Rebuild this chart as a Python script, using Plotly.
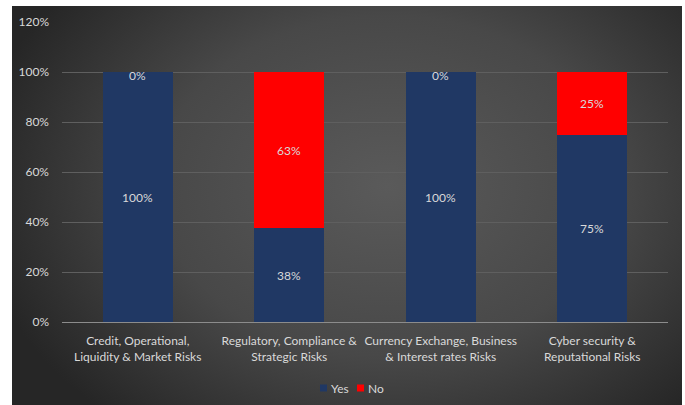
import base64
import math
import plotly.graph_objects as go

# Survey results per risk category (share of respondents, %)
categories = [
    "Credit, Operational,<br>Liquidity & Market Risks",
    "Regulatory, Compliance &<br>Strategic Risks",
    "Currency Exchange, Business<br>& Interest rates Risks",
    "Cyber security &<br>Reputational Risks",
]
yes_values = [100, 37.5, 100, 75]
no_values = [0, 62.5, 0, 25]
series_names = ["Yes", "No"]
y_ticks = [0, 20, 40, 60, 80, 100, 120]

YES_COLOR = "#203864"
NO_COLOR = "#FF0000"
TEXT_COLOR = "#D9D9D9"
FONT = "Lato, 'Open Sans', sans-serif"

W, H = 685, 405
M_L, M_R, M_T, M_B = 62, 17, 22, 83
plot_w = W - M_L - M_R
plot_h = H - M_T - M_B


def pct(v):
    return f"{math.floor(v + 0.5)}%"


def px_to_paper_x(px):
    return (px - M_L) / plot_w


def px_to_paper_y(py):
    return (H - M_B - py) / plot_h


# Dark radial-gradient panel behind the chart
svg = (
    '<svg xmlns="http://www.w3.org/2000/svg" width="670" height="399" '
    'preserveAspectRatio="none" viewBox="0 0 670 399">'
    '<defs><radialGradient id="g" cx="0.56" cy="0.45" r="0.62" '
    'gradientTransform="translate(0.56 0.45) scale(1 1.25) translate(-0.56 -0.45)">'
    '<stop offset="0" stop-color="#5a5a5a"/>'
    '<stop offset="0.55" stop-color="#484848"/>'
    '<stop offset="1" stop-color="#262626"/>'
    '</radialGradient></defs>'
    '<rect width="670" height="399" fill="url(#g)"/></svg>'
)
svg_uri = "data:image/svg+xml;base64," + base64.b64encode(svg.encode()).decode()

fig = go.Figure()
fig.add_trace(go.Bar(
    x=categories, y=yes_values, name=series_names[0],
    marker=dict(color=YES_COLOR, line=dict(width=0)),
    hoverinfo="skip", showlegend=False,
))
fig.add_trace(go.Bar(
    x=categories, y=no_values, name=series_names[1],
    marker=dict(color=NO_COLOR, line=dict(width=0)),
    hoverinfo="skip", showlegend=False,
))

# Value labels centred in each segment
annotations = []
for cat, yv, nv in zip(categories, yes_values, no_values):
    annotations.append(dict(
        x=cat, y=yv / 2, xref="x", yref="y", text=pct(yv),
        showarrow=False, font=dict(family=FONT, size=12, color=TEXT_COLOR),
    ))
    annotations.append(dict(
        x=cat, y=yv + nv / 2, xref="x", yref="y", text=pct(nv),
        showarrow=False, yshift=-3 if nv == 0 else 0,
        font=dict(family=FONT, size=12, color=TEXT_COLOR),
    ))

# Compact legend: small square swatch followed by the series name
shapes = []
legend_y = px_to_paper_y(388)
half_h = 3.5 / plot_h
for name, color, sx in zip(series_names, [YES_COLOR, NO_COLOR], [320, 357]):
    shapes.append(dict(
        type="rect", xref="paper", yref="paper",
        x0=px_to_paper_x(sx), x1=px_to_paper_x(sx + 7),
        y0=legend_y - half_h, y1=legend_y + half_h,
        fillcolor=color, line=dict(width=0),
    ))
    annotations.append(dict(
        x=px_to_paper_x(sx + 8.5), y=legend_y, xref="paper", yref="paper",
        xanchor="left", yanchor="middle", text=name, showarrow=False,
        font=dict(family=FONT, size=12, color=TEXT_COLOR),
    ))

fig.update_layout(
    width=W, height=H,
    margin=dict(l=M_L, r=M_R, t=M_T, b=M_B, autoexpand=False),
    barmode="stack", bargap=0.54,
    paper_bgcolor="white", plot_bgcolor="rgba(0,0,0,0)",
    font=dict(family=FONT, size=12, color=TEXT_COLOR),
    showlegend=False,
    xaxis=dict(
        showgrid=False, showline=True, linecolor="#8c8c8c", linewidth=1,
        ticks="", ticklabelstandoff=8, automargin=False,
        tickfont=dict(size=12, color=TEXT_COLOR), fixedrange=True,
    ),
    yaxis=dict(
        range=[0, 120], tickvals=y_ticks, ticktext=[f"{v}%" for v in y_ticks],
        showgrid=True, gridcolor="#5f5f5f", gridwidth=1, zeroline=False,
        showline=False, ticks="", ticklabelstandoff=12, automargin=False,
        tickfont=dict(size=12, color=TEXT_COLOR), fixedrange=True,
    ),
    annotations=annotations,
    shapes=shapes,
    images=[dict(
        source=svg_uri, xref="paper", yref="paper",
        x=px_to_paper_x(12), y=px_to_paper_y(6),
        sizex=px_to_paper_x(682) - px_to_paper_x(12),
        sizey=px_to_paper_y(6) - px_to_paper_y(405),
        sizing="stretch", layer="below", xanchor="left", yanchor="top",
    )],
)

fig.write_html("out.html")
